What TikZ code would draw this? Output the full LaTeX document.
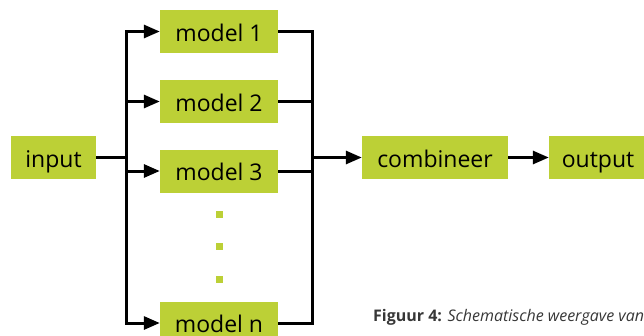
\documentclass[tikz,border=0pt]{standalone}
\usepackage{fontspec}
\setmainfont{Open Sans}
\usetikzlibrary{arrows.meta}
\definecolor{lime}{RGB}{188,208,54}
\definecolor{capgray}{RGB}{55,55,55}
\begin{document}
\begin{tikzpicture}[x=1pt,y=-1pt,
  box/.style={fill=lime,inner sep=0pt,minimum height=43pt,text height=19pt,text depth=0pt,font=\fontsize{23}{23}\selectfont,text=black},
  modelbox/.style={box,minimum width=118pt},
  wire/.style={line width=3pt,black},
  arr/.style={wire,-{Triangle[length=16pt,width=13pt]}},
  dotsq/.style={fill=lime,minimum size=7pt,inner sep=0pt}]
\useasboundingbox (0,0) rectangle (644,335);
\clip (0,0) rectangle (644,335);
\node[box,minimum width=85pt] (in) at (53.5,157.5) {input};
\node[modelbox] (m1) at (219,31.5) {model 1};
\node[modelbox] (m2) at (219,101.5) {model 2};
\node[modelbox] (m3) at (219,171) {model 3};
\node[modelbox] (mn) at (219,323) {model n};
\node[dotsq] (d1) at (219,214.5) {};
\node[dotsq] (d2) at (219,246.5) {};
\node[dotsq] (d3) at (219,279.5) {};
\node[box,minimum width=146pt] (comb) at (435,157.5) {combineer};
\node[box,minimum width=98pt] (out) at (598,157.5) {output};
\coordinate (sx) at (126,0);
\coordinate (jx) at (312,0);
% split
\draw[wire] (in.east) -- (in.east -| sx);
\draw[wire,line cap=rect] (m1.west -| sx) -- (mn.west -| sx);
\foreach \m in {m1,m2,m3,mn} \draw[arr] (\m.west -| sx) -- (\m.west);
% join
\foreach \m in {m1,m2,m3,mn} \draw[wire] (\m.east) -- (\m.east -| jx);
\draw[wire,line cap=rect] (m1.east -| jx) -- (mn.east -| jx);
\draw[arr] (comb.west -| jx) -- (comb.west);
\draw[arr] (comb.east) -- (out.west);
% caption
\node[anchor=base west,inner sep=0pt,text=capgray,font=\fontsize{16}{16}\selectfont] (cap) at (373,321) {\textbf{Figuur 4:} \textit{Schematische weergave van}};
\end{tikzpicture}
\end{document}
